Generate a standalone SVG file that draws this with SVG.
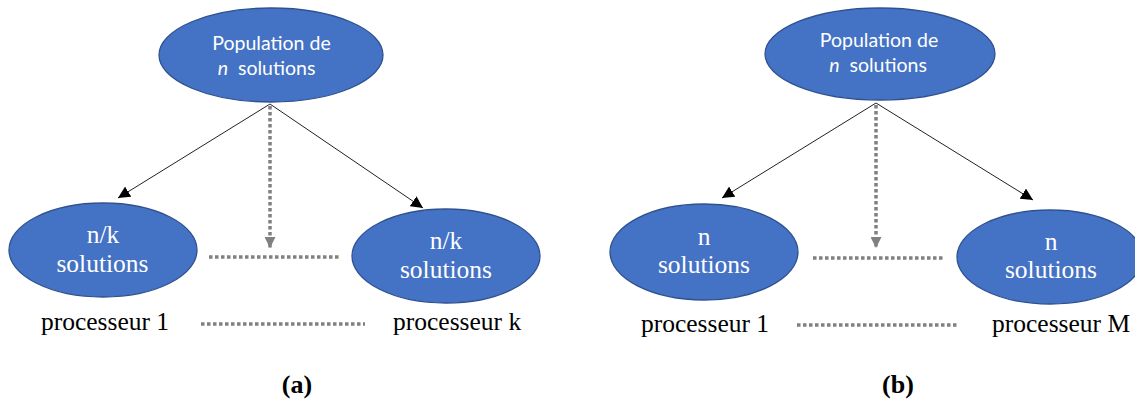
<svg xmlns="http://www.w3.org/2000/svg" width="1135" height="400" viewBox="0 0 1135 400">
  <style>
    .node { fill: #4472C4; stroke: #2F528F; stroke-width: 1.3; }
    .sans { font-family: Lato, "Open Sans", "Liberation Sans", sans-serif; font-size: 19.5px; fill: #ffffff; text-anchor: middle; }
    .cm { font-family: "Liberation Serif", "DejaVu Serif", serif; font-size: 25.5px; text-anchor: middle; fill: #000; }
    .cmw { fill: #ffffff; }
    .start { text-anchor: start; }
    .label { font-family: "Liberation Serif", serif; font-weight: bold; font-size: 26px; text-anchor: middle; fill: #000; }
    .arrow { stroke: #222; stroke-width: 1; fill: none; marker-end: url(#tri); }
    .dots { stroke: #808080; stroke-width: 3.5; stroke-dasharray: 3.5 2.5; fill: none; }
    .dotsArrow { stroke: #808080; stroke-width: 3.5; stroke-dasharray: 3.5 2.5; fill: none; marker-end: url(#grayTri); }
  </style>
  <defs>
    <marker id="tri" viewBox="0 0 10 10" refX="10" refY="5" markerWidth="12" markerHeight="12" markerUnits="userSpaceOnUse" orient="auto">
      <path d="M0,0 L10,5 L0,10 z" fill="#000"/>
    </marker>
    <marker id="grayTri" viewBox="0 0 10 10" refX="10" refY="5" markerWidth="11" markerHeight="11" markerUnits="userSpaceOnUse" orient="auto">
      <path d="M0,0 L10,5 L0,10 z" fill="#808080"/>
    </marker>
  </defs>
  <rect width="1135" height="400" fill="#ffffff"/>

  <!-- connectors -->
  <g id="connectors">
    <line class="arrow" x1="270" y1="104" x2="118" y2="198"/>
    <line class="arrow" x1="270" y1="104" x2="423" y2="208"/>
    <line class="dotsArrow" x1="270" y1="106" x2="270" y2="248"/>
    <line class="dots" x1="209" y1="257" x2="340" y2="257"/>
    <line class="dots" x1="201" y1="324" x2="365" y2="324"/>

    <line class="arrow" x1="876" y1="103" x2="722" y2="198"/>
    <line class="arrow" x1="876" y1="103" x2="1033" y2="200"/>
    <line class="dotsArrow" x1="876" y1="105" x2="876" y2="248"/>
    <line class="dots" x1="813" y1="258" x2="945" y2="258"/>
    <line class="dots" x1="797" y1="325" x2="958" y2="325"/>
  </g>

  <!-- panel (a) -->
  <g id="a-population">
    <ellipse class="node" cx="271" cy="55" rx="112" ry="47"/>
    <text class="sans" x="271.5" y="50">Population de</text>
    <text class="sans" x="266.5" y="75" xml:space="preserve"><tspan font-style="italic">n</tspan>  solutions</text>
  </g>
  <g id="a-proc1">
    <ellipse class="node" cx="103" cy="250" rx="94" ry="47"/>
    <text class="cm cmw" x="103" y="243">n/k</text>
    <text class="cm cmw" x="102.5" y="272">solutions</text>
    <text class="cm" x="105" y="330">processeur 1</text>
  </g>
  <g id="a-prock">
    <ellipse class="node" cx="446" cy="256" rx="94" ry="47"/>
    <text class="cm cmw" x="446" y="249">n/k</text>
    <text class="cm cmw" x="446" y="278">solutions</text>
    <text class="cm start" x="393" y="330">processeur k</text>
  </g>
  <text class="label" x="297" y="393">(a)</text>

  <!-- panel (b) -->
  <g id="b-population">
    <ellipse class="node" cx="880" cy="54" rx="115" ry="46"/>
    <text class="sans" x="879" y="47">Population de</text>
    <text class="sans" x="878" y="72" xml:space="preserve"><tspan font-style="italic">n</tspan>  solutions</text>
  </g>
  <g id="b-proc1">
    <ellipse class="node" cx="704" cy="252" rx="94" ry="48"/>
    <text class="cm cmw" x="704" y="245">n</text>
    <text class="cm cmw" x="704" y="273">solutions</text>
    <text class="cm" x="705" y="332">processeur 1</text>
  </g>
  <g id="b-procM">
    <ellipse class="node" cx="1050" cy="257" rx="93" ry="47"/>
    <text class="cm cmw" x="1051" y="250">n</text>
    <text class="cm cmw" x="1051" y="278">solutions</text>
    <text class="cm start" x="992" y="332">processeur M</text>
  </g>
  <text class="label" x="898" y="393">(b)</text>
</svg>
